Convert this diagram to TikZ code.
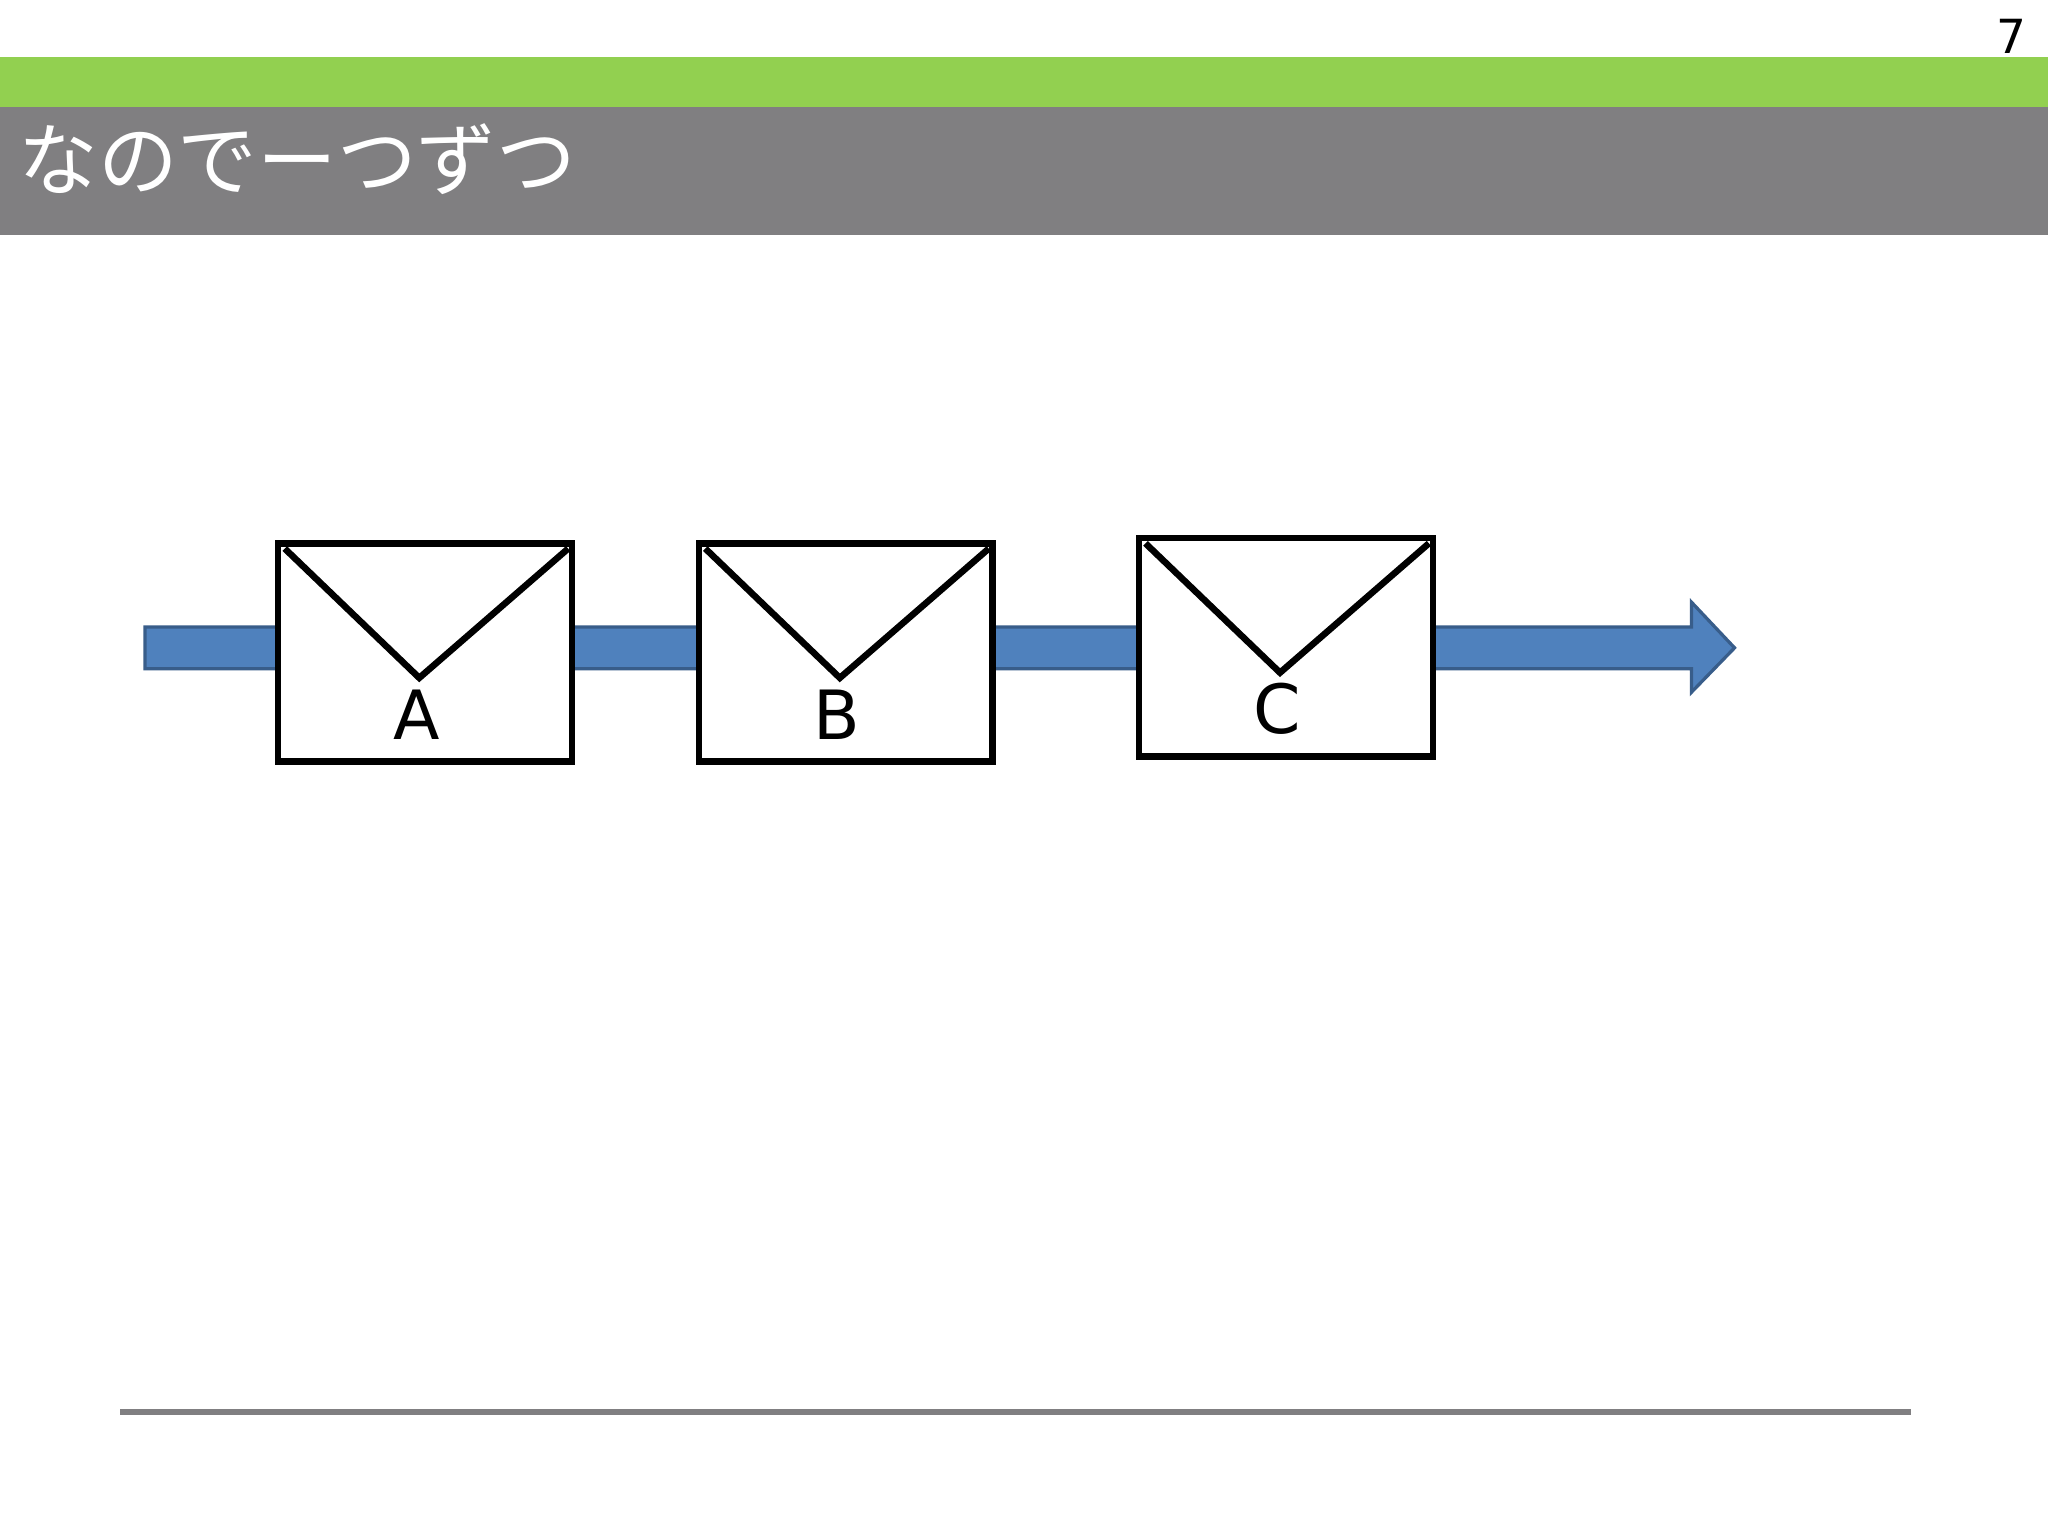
\documentclass[tikz,border=0pt]{standalone}
\usepackage{fontspec}
\setmainfont{DejaVu Sans}
\newfontfamily\cjk{Noto Sans CJK JP}
\definecolor{grn}{HTML}{92D050}
\definecolor{gry}{HTML}{807F81}
\definecolor{blu}{HTML}{4F81BD}
\definecolor{bluedge}{HTML}{385D8A}
\begin{document}
\begin{tikzpicture}[x=1pt,y=-1pt,
  env/.style={draw=black,line width=5pt,fill=white},
  lbl/.style={font=\fontsize{52}{60}\selectfont,inner sep=0pt}]
\useasboundingbox (0,0) rectangle (1568,1176);
\fill[white] (0,0) rectangle (1568,1176);
\node[font=\fontsize{36}{40}\selectfont,anchor=east,inner sep=0pt] (pg) at (1552,28) {7};
\fill[grn] (0,44) rectangle (1568,82);
\fill[gry] (0,82) rectangle (1568,180);
\node[font=\cjk\fontsize{61}{64}\selectfont,text=white,anchor=west,inner sep=0pt] (title) at (14,122) {なのでーつずつ};
\draw[bluedge,line width=2.5pt,fill=blu] (111,480) -- (1295,480) -- (1295,461) -- (1328,496) -- (1295,530) -- (1295,512) -- (111,512) -- cycle;
\foreach \n/\x/\y/\t in {a/213/416/A,b/535/416/B,c/872/412/C}{
  \draw[env] (\x,\y) rectangle ++(225,167);
  \draw[line width=5pt] (\x+5,\y+4) -- (\x+108,\y+103) -- (\x+222,\y+4);
  \node[lbl] (\n) at (\x+106,\y+131) {\t};
}
\draw[gry,line width=4pt] (92,1081) -- (1463,1081);
\end{tikzpicture}
\end{document}
